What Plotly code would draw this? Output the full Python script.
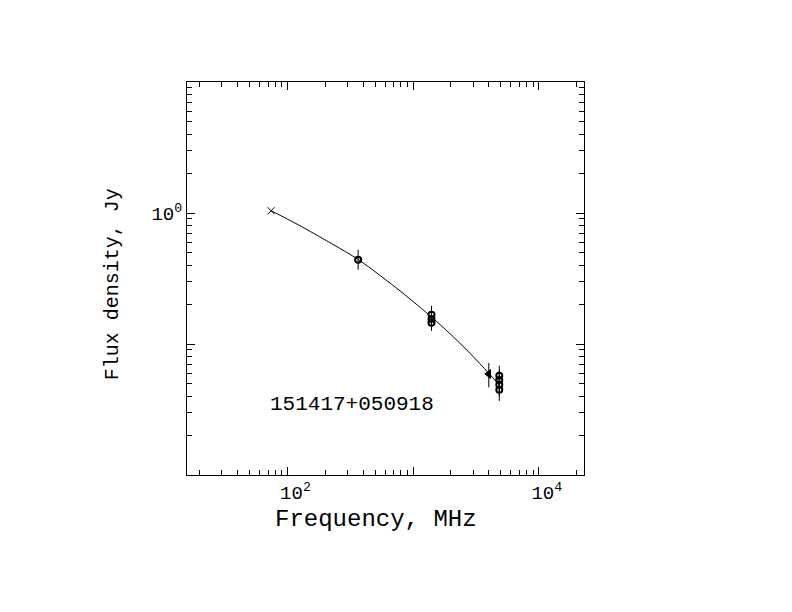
import plotly.graph_objects as go

# ---- data ----
vlss_freq = [74]
vlss_flux = [1.04]

circ_freq = [365, 1400, 1400, 1400, 4850, 4850, 4850, 4850]
circ_flux = [0.44, 0.167, 0.155, 0.145, 0.0573, 0.0531, 0.0489, 0.0448]
circ_err_hi = [0.084, 0.029, 0.025, 0.020, 0.011, 0.010, 0.009, 0.008]
circ_err_lo = [0.071, 0.025, 0.022, 0.019, 0.010, 0.009, 0.009, 0.008]

tri_freq = [4000]
tri_flux = [0.059]
tri_err_hi = [0.0126]
tri_err_lo = [0.0123]

fit_freq = [74, 122, 225, 370, 800, 1406, 1963, 2831, 3963, 4900]
fit_flux = [1.042, 0.812, 0.583, 0.438, 0.251, 0.160, 0.120, 0.0851, 0.0604, 0.048]

source_name = "151417+050918"

x_major = [100, 1000, 10000]
x_major_text = ["10<sup>2</sup>", "", "10<sup>4</sup>"]
y_major = [0.01, 0.1, 1, 10]
y_major_text = ["", "", "10<sup>0</sup>", ""]

x_minor = [m * 10 ** e for e in range(1, 5) for m in range(2, 10)]
y_minor = [m * 10 ** e for e in range(-2, 1) for m in range(2, 10)]

FONT = "Liberation Mono"

fig = go.Figure()

fig.add_trace(go.Scatter(
    x=fit_freq, y=fit_flux, mode="lines",
    line=dict(color="black", width=1, shape="spline", smoothing=0.8),
    showlegend=False, hoverinfo="skip"))

fig.add_trace(go.Scatter(
    x=vlss_freq, y=vlss_flux, mode="markers",
    marker=dict(symbol="x-thin", size=7, line=dict(color="black", width=1)),
    showlegend=False))

fig.add_trace(go.Scatter(
    x=circ_freq, y=circ_flux, mode="markers",
    marker=dict(symbol="circle-open", size=6, color="black", line=dict(color="black", width=2)),
    error_y=dict(type="data", symmetric=False, array=circ_err_hi, arrayminus=circ_err_lo,
                 color="black", thickness=1, width=0),
    showlegend=False))

fig.add_trace(go.Scatter(
    x=tri_freq, y=tri_flux, mode="markers",
    marker=dict(symbol="triangle-left", size=9, color="black"),
    error_y=dict(type="data", symmetric=False, array=tri_err_hi, arrayminus=tri_err_lo,
                 color="black", thickness=1, width=0),
    showlegend=False))

axis_common = dict(
    type="log", showgrid=False, zeroline=False,
    showline=True, linecolor="black", linewidth=1, mirror="ticks",
    ticks="inside", ticklen=8, tickwidth=1, tickcolor="black",
    tickfont=dict(family=FONT, size=19, color="black"),
    tickmode="array",
)

fig.update_xaxes(
    **axis_common,
    range=[1.2, 4.36],
    tickvals=x_major, ticktext=x_major_text,
    ticklabelshift=8,
    minor=dict(tickmode="array", tickvals=x_minor, ticks="inside", ticklen=5,
               tickwidth=1, tickcolor="black", showgrid=False),
)
fig.update_yaxes(
    **axis_common,
    range=[-2.0, 1.0],
    tickvals=y_major, ticktext=y_major_text,
    minor=dict(tickmode="array", tickvals=y_minor, ticks="inside", ticklen=5,
               tickwidth=1, tickcolor="black", showgrid=False),
)

fig.add_annotation(text=source_name, xref="paper", yref="paper",
                   x=0.205, y=0.180, xanchor="left", yanchor="middle",
                   showarrow=False, font=dict(family=FONT, size=21, color="black"))
fig.add_annotation(text="Frequency, MHz", xref="paper", yref="paper",
                   x=0.477, y=-0.114, xanchor="center", yanchor="middle",
                   showarrow=False, font=dict(family=FONT, size=24, color="black"))
fig.add_annotation(text="Flux density, Jy", xref="paper", yref="paper",
                   x=-0.188, y=0.486, xanchor="center", yanchor="middle", textangle=-90,
                   showarrow=False, font=dict(family=FONT, size=20, color="black"))

fig.update_layout(
    width=792, height=612,
    margin=dict(l=179, r=216, t=74, b=145, pad=0),
    paper_bgcolor="white", plot_bgcolor="white",
    showlegend=False,
)

fig.write_html("out.html")
